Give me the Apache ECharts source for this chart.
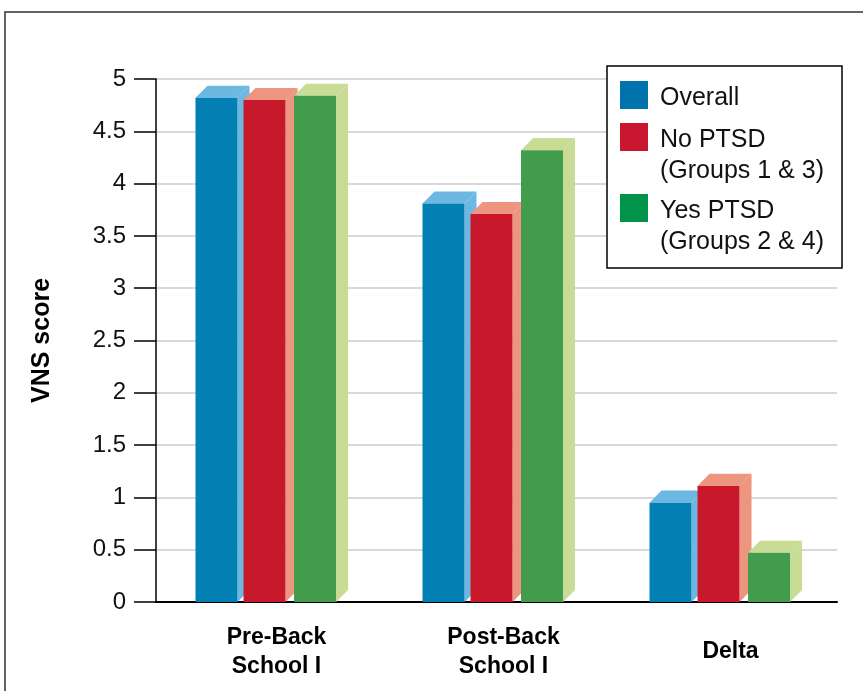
<!DOCTYPE html>
<html>
<head>
<meta charset="utf-8">
<script src="https://cdn.jsdelivr.net/npm/echarts@6/dist/echarts.min.js"></script>
<style>
  html, body { margin: 0; padding: 0; background: #fff; }
  #chart { width: 863px; height: 691px; }
</style>
</head>
<body>
<div id="chart"></div>
<script>
// Categories along the x axis
const categories = ['Pre-Back\nSchool I', 'Post-Back\nSchool I', 'Delta'];

// Series names (legend text, two lines where needed)
const seriesNames = ['Overall', 'No PTSD\n(Groups 1 & 3)', 'Yes PTSD\n(Groups 2 & 4)'];

// Mean VNS scores per group
const overallValues = [4.82, 3.81, 0.95];
const noPtsdValues = [4.80, 3.71, 1.11];
const yesPtsdValues = [4.84, 4.32, 0.47];

// Y axis ticks
const yTicks = [0, 0.5, 1, 1.5, 2, 2.5, 3, 3.5, 4, 4.5, 5];

const seriesValues = [overallValues, noPtsdValues, yesPtsdValues];

// Front face colours and lighter colours for top / side faces
const frontColors = ['#0280b3', '#c8192c', '#429c4c'];
const lightColors = ['#6cb8e2', '#ee9580', '#c9dc96'];
const legendColors = ['#0073ad', '#c8172e', '#00934a'];

// Horizontal placement of each series' front face, as a fraction of the category band
const barOffset = [-0.326, -0.1145, 0.108];
const barWidthFrac = 0.185;
const depthFrac = 0.053;

const FONT = '"Liberation Sans", Arial, Helvetica, sans-serif';

function makeRender(si) {
  return function (params, api) {
    const cat = api.value(0);
    const val = api.value(1);
    const top = api.coord([cat, val]);
    const base = api.coord([cat, 0]);
    const W = api.size([1, 0])[0];
    const fw = barWidthFrac * W;
    const d = depthFrac * W;
    const x0 = top[0] + barOffset[si] * W;
    const yT = top[1];
    const yB = base[1];
    return {
      type: 'group',
      children: [
        {
          type: 'polygon',
          shape: { points: [[x0 + fw, yT], [x0 + fw + d, yT - d], [x0 + fw + d, yB - d], [x0 + fw, yB]] },
          style: { fill: lightColors[si] }
        },
        {
          type: 'polygon',
          shape: { points: [[x0, yT], [x0 + d, yT - d], [x0 + fw + d, yT - d], [x0 + fw, yT]] },
          style: { fill: lightColors[si] }
        },
        {
          type: 'rect',
          shape: { x: x0, y: yT, width: fw, height: yB - yT },
          style: { fill: frontColors[si] }
        }
      ]
    };
  };
}

const series = seriesValues.map((vals, si) => ({
  type: 'custom',
  name: seriesNames[si],
  renderItem: makeRender(si),
  encode: { x: 0, y: 1 },
  data: vals.map((v, i) => [i, v]),
  z: 2 + si
}));

// Legend box drawn as graphics: square + (possibly two-line) label
const graphics = [
  {
    type: 'rect',
    shape: { x: 5, y: 12, width: 900, height: 700 },
    style: { fill: 'none', stroke: '#333', lineWidth: 1.5 },
    silent: true,
    z: 100
  },
  {
    type: 'rect',
    shape: { x: 607, y: 66, width: 235, height: 202 },
    style: { fill: '#fff', stroke: '#000', lineWidth: 1.5 },
    z: 100
  }
];
const legendTops = [81, 123, 194];
seriesNames.forEach((name, i) => {
  graphics.push({
    type: 'rect',
    shape: { x: 620, y: legendTops[i], width: 28, height: 28 },
    style: { fill: legendColors[i] },
    z: 101
  });
  graphics.push({
    type: 'text',
    x: 660,
    y: legendTops[i] + 2,
    style: {
      text: name,
      font: '25px ' + FONT,
      fill: '#111',
      lineHeight: 31,
      verticalAlign: 'top'
    },
    z: 101
  });
});

const chart = echarts.init(document.getElementById('chart'), null, { renderer: 'canvas' });
chart.setOption({
  animation: false,
  backgroundColor: '#fff',
  grid: { left: 156, right: 26, top: 79, bottom: 89 },
  xAxis: {
    type: 'category',
    data: categories,
    boundaryGap: true,
    axisLine: { show: true, lineStyle: { color: '#000', width: 2 } },
    axisTick: { show: false },
    axisLabel: {
      color: '#000',
      fontFamily: FONT,
      fontWeight: 'bold',
      fontSize: 23,
      lineHeight: 29,
      margin: 50,
      verticalAlign: 'middle',
      padding: [0, 0, 0, 14]
    }
  },
  yAxis: {
    type: 'value',
    min: 0,
    max: 5,
    interval: 0.5,
    name: 'VNS score',
    nameLocation: 'middle',
    nameGap: 101,
    nameTextStyle: { color: '#000', fontFamily: FONT, fontWeight: 'bold', fontSize: 25 },
    axisLine: { show: true, lineStyle: { color: '#000', width: 1.5 } },
    axisTick: { show: true, inside: false, length: 22, lineStyle: { color: '#000', width: 1.5 } },
    axisLabel: {
      color: '#111',
      fontFamily: FONT,
      fontSize: 24,
      margin: 30,
      formatter: v => (yTicks.indexOf(v) >= 0 ? String(v) : '')
    },
    splitLine: { show: true, lineStyle: { color: '#d9d9d9', width: 2 } }
  },
  series: series,
  graphic: graphics
});
</script>
</body>
</html>
